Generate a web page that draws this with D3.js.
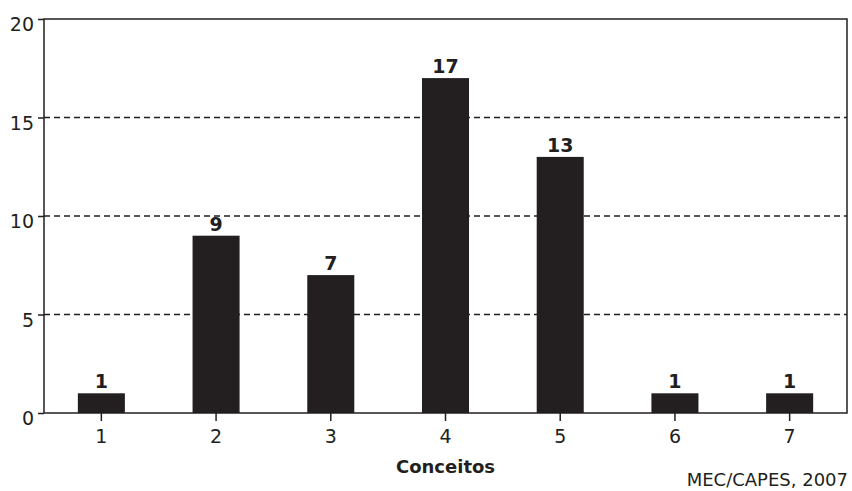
<!DOCTYPE html>
<html>
<head>
<meta charset="utf-8">
<script src="https://cdn.jsdelivr.net/npm/d3@7"></script>
<style>
  body { margin: 0; background: #fff; }
  svg { display: block; }
  text { font-family: "DejaVu Sans", Verdana, sans-serif; fill: #231f20; }
</style>
</head>
<body>
<svg id="chart"></svg>
<script>
var conceitos = ["1", "2", "3", "4", "5", "6", "7"];
var programas = [1, 9, 7, 17, 13, 1, 1];
var yTicks = [0, 5, 10, 15, 20];

var width = 852, height = 491;
var margin = { top: 19, right: 5, bottom: 78, left: 44 };
var ink = "#231f20";

var svg = d3.select("#chart").attr("width", width).attr("height", height);
var g = svg.append("g").attr("transform", "translate(" + margin.left + "," + margin.top + ")");
var w = width - margin.left - margin.right;
var h = height - margin.top - margin.bottom;

var x = d3.scaleBand().domain(conceitos).range([0, w]).paddingInner(0.59).paddingOuter(0.295);
var y = d3.scaleLinear().domain([0, 20]).range([h, 0]);

// dashed grid
g.selectAll("line.grid")
    .data(yTicks.filter(function(d) { return d > 0 && d < 20; }))
    .enter()
    .append("line")
    .attr("class", "grid")
    .attr("x1", 0).attr("x2", w)
    .attr("y1", function(d) { return y(d); })
    .attr("y2", function(d) { return y(d); })
    .attr("stroke", ink)
    .attr("stroke-width", 1.3)
    .attr("stroke-dasharray", "6,4");

// bars
g.selectAll("rect.bar")
    .data(programas)
    .enter()
    .append("rect")
    .attr("class", "bar")
    .attr("x", function(d, i) { return x(conceitos[i]); })
    .attr("y", function(d) { return y(d); })
    .attr("width", x.bandwidth())
    .attr("height", function(d) { return h - y(d); })
    .attr("fill", ink);

// value labels
g.selectAll("text.val")
    .data(programas)
    .enter()
    .append("text")
    .attr("class", "val")
    .attr("x", function(d, i) { return x(conceitos[i]) + x.bandwidth() / 2; })
    .attr("y", function(d) { return y(d) - 5; })
    .attr("text-anchor", "middle")
    .attr("font-size", 19)
    .attr("font-weight", "bold")
    .text(function(d) { return d; });

// frame
g.append("rect")
    .attr("x", 0).attr("y", 0).attr("width", w).attr("height", h)
    .attr("fill", "none").attr("stroke", ink).attr("stroke-width", 1.5);

// axes
var xAxis = g.append("g")
    .attr("transform", "translate(0," + h + ")")
    .call(d3.axisBottom(x).tickSize(8).tickPadding(3));
var yAxis = g.append("g")
    .call(d3.axisLeft(y).tickValues(yTicks).tickSize(6).tickPadding(4));

[xAxis, yAxis].forEach(function(a) {
    a.select(".domain").remove();
    a.selectAll(".tick line").attr("stroke", ink).attr("stroke-width", 1.5);
    a.selectAll(".tick text").attr("font-size", 19).attr("fill", ink)
        .style("font-family", "'DejaVu Sans', Verdana, sans-serif");
});
xAxis.selectAll(".tick text").attr("dy", "1em");
yAxis.selectAll(".tick text").attr("dy", "0.62em");

svg.append("text")
    .attr("x", margin.left + w / 2)
    .attr("y", 473)
    .attr("text-anchor", "middle")
    .attr("font-size", 18)
    .attr("font-weight", "bold")
    .text("Conceitos");

svg.append("text")
    .attr("x", 848)
    .attr("y", 486)
    .attr("text-anchor", "end")
    .attr("font-size", 18)
    .text("MEC/CAPES, 2007");
</script>
</body>
</html>
